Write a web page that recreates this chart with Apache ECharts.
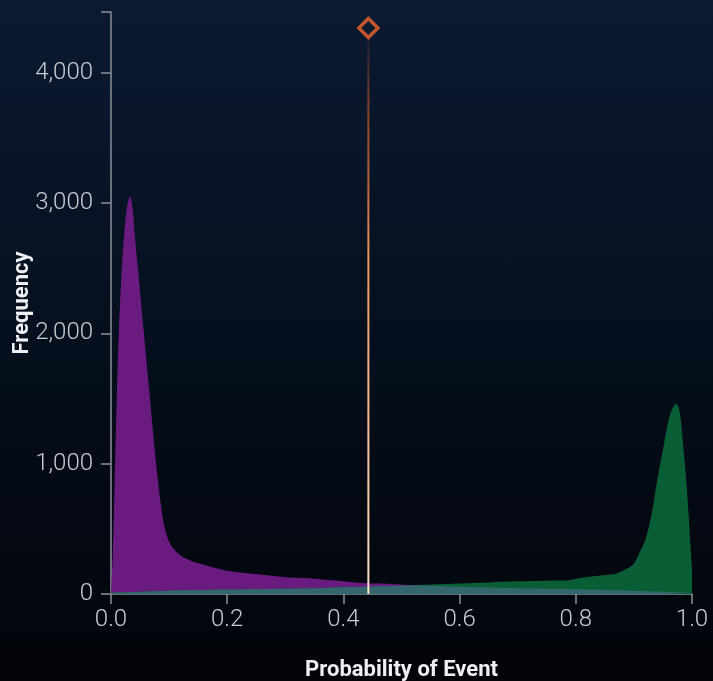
<!DOCTYPE html>
<html>
<head>
<meta charset="utf-8">
<script src="https://cdn.jsdelivr.net/npm/echarts@6/dist/echarts.min.js"></script>
<style>
  html, body { margin: 0; padding: 0; }
  #main {
    width: 713px; height: 681px;
    background: linear-gradient(to bottom, #0b1a32 0%, #06101f 45%, #020409 100%);
  }
</style>
</head>
<body>
<div id="main"></div>
<script>
// x ticks / y ticks
const xTicks = [0, 0.2, 0.4, 0.6, 0.8, 1.0];
const yTicks = [0, 1000, 2000, 3000, 4000];

// non-event density (purple)
const purpleX = [0, 0.003, 0.006, 0.009, 0.013, 0.018, 0.023, 0.028, 0.0326, 0.037, 0.042, 0.049, 0.056, 0.066, 0.076, 0.084, 0.09, 0.096, 0.102, 0.108, 0.12, 0.135, 0.16, 0.18, 0.2, 0.235, 0.26, 0.292, 0.32, 0.349, 0.38, 0.407, 0.441, 0.464, 0.49, 0.52, 0.55, 0.6, 0.65, 0.7, 0.75, 0.8, 0.85, 0.9, 0.95, 1.0];
const purpleY = [0, 300, 800, 1350, 1950, 2450, 2780, 2980, 3050, 2970, 2700, 2370, 2030, 1550, 1070, 750, 560, 450, 385, 345, 295, 260, 225, 200, 178, 159, 148, 133, 124, 118, 106, 95, 82, 80, 74, 67, 64, 56, 50, 44, 40, 36, 30, 25, 18, 12];

// event density (green)
const greenX = [0, 0.05, 0.1, 0.15, 0.2, 0.25, 0.3, 0.35, 0.4, 0.45, 0.5, 0.52, 0.55, 0.6, 0.65, 0.7, 0.75, 0.78, 0.81, 0.85, 0.87, 0.89, 0.9, 0.91, 0.92, 0.93, 0.94, 0.95, 0.96, 0.967, 0.973, 0.979, 0.985, 0.99, 0.994, 0.997, 1.0];
const greenY = [10, 18, 25, 30, 34, 37, 40, 45, 52, 58, 64, 67, 72, 80, 88, 97, 102, 103, 125, 146, 158, 200, 235, 320, 420, 600, 870, 1110, 1340, 1430, 1458, 1390, 1130, 875, 620, 400, 200];

// overlap of the two densities (teal)
const overlapX = [0, 0.05, 0.1, 0.15, 0.2, 0.25, 0.3, 0.35, 0.4, 0.45, 0.5, 0.52, 0.55, 0.6, 0.65, 0.7, 0.75, 0.8, 0.85, 0.9, 0.95, 1.0];
const overlapY = [10, 18, 25, 30, 34, 37, 40, 45, 52, 58, 64, 67, 64, 56, 50, 44, 40, 36, 30, 25, 18, 12];

// threshold marker
const threshold = 0.443;
const markerY = 4345;

const pairs = (xs, ys) => xs.map((x, i) => [x, ys[i]]);

const chart = echarts.init(document.getElementById('main'), null, { renderer: 'canvas' });

const axisGray = '#8c9099';
const labelColor = '#c8ccd3';

function area(name, data, color) {
  return {
    name: name,
    type: 'line',
    data: data,
    smooth: 0.35,
    symbol: 'none',
    lineStyle: { width: 0 },
    areaStyle: { color: color, opacity: 1 },
    silent: true
  };
}

chart.setOption({
  backgroundColor: 'transparent',
  animation: false,
  grid: { left: 111, right: 21, top: 12, bottom: 87, containLabel: false, outerBoundsMode: 'none' },
  xAxis: {
    type: 'value',
    min: 0, max: 1, interval: 0.2,
    name: 'Probability of Event',
    nameLocation: 'middle',
    nameGap: 65,
    nameMoveOverlap: false,
    nameTextStyle: { color: '#eef0f3', fontFamily: 'Roboto', fontWeight: 'bold', fontSize: 22 },
    splitLine: { show: false },
    axisLine: { lineStyle: { color: axisGray, width: 1.5 } },
    axisTick: { show: true, length: 10, lineStyle: { color: axisGray, width: 1.5 } },
    axisLabel: {
      color: labelColor, fontFamily: 'Roboto', fontWeight: 300, fontSize: 24, margin: 14,
      formatter: v => xTicks.some(t => Math.abs(t - v) < 1e-9) ? v.toFixed(1) : ''
    }
  },
  yAxis: {
    type: 'value',
    min: 0, max: 4468, interval: 1000,
    name: 'Frequency',
    nameLocation: 'middle',
    nameGap: 78,
    nameMoveOverlap: false,
    nameTextStyle: { color: '#eef0f3', fontFamily: 'Roboto', fontWeight: 'bold', fontSize: 22 },
    splitLine: { show: false },
    axisLine: { show: true, lineStyle: { color: axisGray, width: 1.5 } },
    axisTick: { show: true, length: 10, lineStyle: { color: axisGray, width: 1.5 } },
    axisLabel: {
      color: labelColor, fontFamily: 'Roboto', fontWeight: 300, fontSize: 24, margin: 18,
      showMaxLabel: true,
      formatter: v => yTicks.indexOf(v) >= 0 ? v.toLocaleString('en-US') : ''
    }
  },
  series: [
    area('Non-event', pairs(purpleX, purpleY), '#6a1b80'),
    area('Event', pairs(greenX, greenY), '#0a5e35'),
    area('Overlap', pairs(overlapX, overlapY), '#33676d'),
    {
      name: 'threshold line',
      type: 'line',
      data: [[threshold, 0], [threshold, markerY]],
      symbol: 'none',
      silent: true,
      z: 5,
      lineStyle: {
        width: 2,
        color: new echarts.graphic.LinearGradient(0, 1, 0, 0, [
          { offset: 0, color: '#fde3cc' },
          { offset: 0.6, color: '#f0935c' },
          { offset: 0.85, color: 'rgba(220,96,40,0.6)' },
          { offset: 1, color: 'rgba(220,96,40,0)' }
        ])
      }
    },
    {
      name: 'threshold',
      type: 'scatter',
      data: [[threshold, markerY]],
      symbol: 'diamond',
      symbolSize: 19,
      z: 6,
      silent: true,
      itemStyle: { color: 'transparent', borderColor: '#f0662c', borderWidth: 3.5 }
    }
  ]
});
</script>
</body>
</html>
